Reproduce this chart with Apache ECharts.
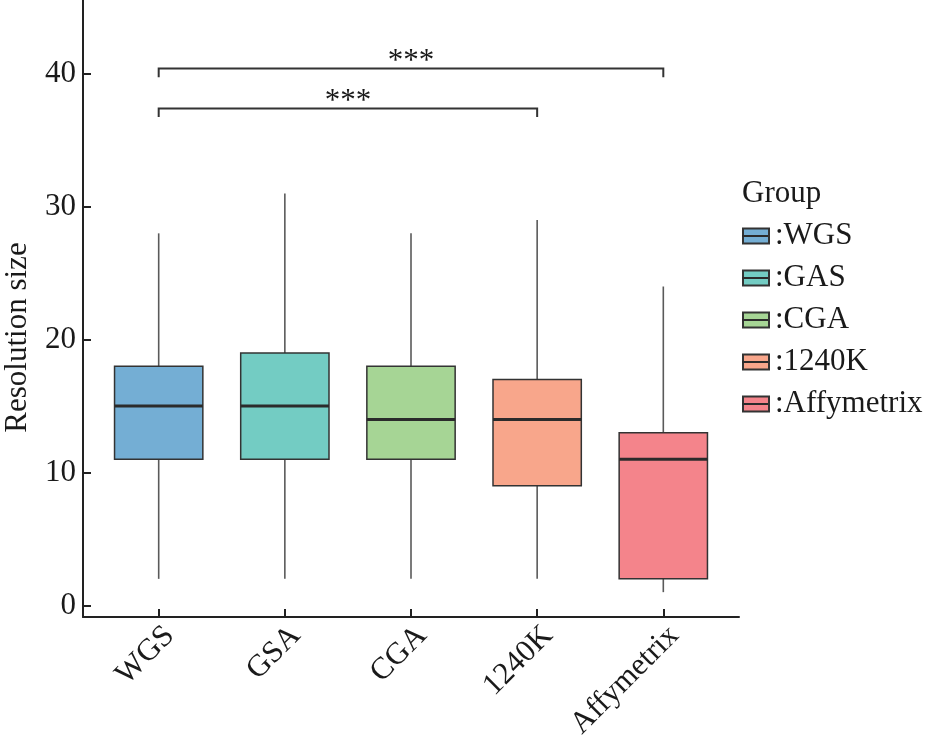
<!DOCTYPE html>
<html>
<head>
<meta charset="utf-8">
<script src="https://cdn.jsdelivr.net/npm/echarts@6/dist/echarts.min.js"></script>
<style>
  html, body { margin: 0; padding: 0; background: #fff; }
  #chart { width: 926px; height: 738px; }
</style>
</head>
<body>
<div id="chart"></div>
<script>
// categories on the x axis and names shown in the legend (legend spells GAS)
const categories = ['WGS', 'GSA', 'CGA', '1240K', 'Affymetrix'];
const legendNames = ['WGS', 'GAS', 'CGA', '1240K', 'Affymetrix'];
// box statistics
const whiskerLow = [2, 2, 2, 2, 1];
const q1 = [11, 11, 11, 9, 2];
const median = [15, 15, 14, 14, 11];
const q3 = [18, 19, 18, 17, 13];
const whiskerHigh = [28, 31, 28, 29, 24];
const yTicks = [0, 10, 20, 30, 40];
// significance brackets: from group, to group, height, label
const bracketFrom = [1, 1];
const bracketTo = [4, 5];
const bracketY = [37.4, 40.4];
const bracketLabel = ['***', '***'];

const colors = ['#74AED4', '#73CCC3', '#A6D595', '#F8A68B', '#F4848B'];
const font = 'Liberation Serif';
const fs = 31;
const ink = '#1a1a1a';

const chart = echarts.init(document.getElementById('chart'));

function renderBox(params, api) {
  const x = api.value(0);
  const lo = api.coord([x, api.value(1)]);
  const a = api.coord([x, api.value(2)]);
  const m = api.coord([x, api.value(3)]);
  const b = api.coord([x, api.value(4)]);
  const hi = api.coord([x, api.value(5)]);
  const half = api.size([0.7, 0])[0] / 2;
  const whisker = { stroke: '#5a5a5a', lineWidth: 1.6 };
  return {
    type: 'group',
    children: [
      { type: 'line', shape: { x1: lo[0], y1: lo[1], x2: a[0], y2: a[1] }, style: whisker },
      { type: 'line', shape: { x1: b[0], y1: b[1], x2: hi[0], y2: hi[1] }, style: whisker },
      {
        type: 'rect',
        shape: { x: a[0] - half, y: b[1], width: half * 2, height: a[1] - b[1] },
        style: { fill: api.visual('color'), stroke: '#333', lineWidth: 1.5 }
      },
      {
        type: 'line',
        shape: { x1: m[0] - half, y1: m[1], x2: m[0] + half, y2: m[1] },
        style: { stroke: '#2b2b2b', lineWidth: 3 }
      }
    ]
  };
}

function renderBracket(params, api) {
  const i = params.dataIndex;
  const p1 = api.coord([api.value(0), api.value(2)]);
  const p2 = api.coord([api.value(1), api.value(2)]);
  const drop = api.size([0, 0.65])[1];
  return {
    type: 'group',
    children: [
      {
        type: 'polyline',
        shape: { points: [[p1[0], p1[1] + drop], [p1[0], p1[1]], [p2[0], p2[1]], [p2[0], p2[1] + drop]] },
        style: { stroke: '#333', lineWidth: 2, fill: null }
      },
      {
        type: 'text',
        x: (p1[0] + p2[0]) / 2,
        y: p1[1] + 9,
        style: {
          text: bracketLabel[i], fontFamily: font, fontSize: fs, fill: ink,
          align: 'center', verticalAlign: 'bottom'
        }
      }
    ]
  };
}

const series = categories.map((c, i) => ({
  name: legendNames[i],
  type: 'custom',
  renderItem: renderBox,
  itemStyle: { color: colors[i], borderColor: '#333', borderWidth: 1.5 },
  encode: { x: 0, y: [1, 2, 3, 4, 5] },
  data: [[i + 1, whiskerLow[i], q1[i], median[i], q3[i], whiskerHigh[i]]],
  z: 2
}));

series.push({
  name: 'brackets',
  type: 'custom',
  renderItem: renderBracket,
  encode: { x: [0, 1], y: 2 },
  data: bracketFrom.map((f, i) => [f, bracketTo[i], bracketY[i]]),
  z: 3
});

const legendLeft = 742;
const legendTop = 219;
const legendRow = 42;
const legendGraphics = legendNames.map((n, i) => ({
  type: 'line',
  shape: {
    x1: legendLeft, y1: legendTop + 17 + i * legendRow,
    x2: legendLeft + 26, y2: legendTop + 17 + i * legendRow
  },
  style: { stroke: '#2b2b2b', lineWidth: 2 },
  z: 100
}));

chart.setOption({
  animation: false,
  grid: { left: 83, right: 187, top: 0, bottom: 121, containLabel: false, outerBoundsMode: 'none' },
  title: {
    text: 'Group', left: legendLeft, top: 178, padding: 0,
    textStyle: { fontFamily: font, fontSize: fs, fontWeight: 'normal', color: ink }
  },
  legend: {
    data: legendNames,
    orient: 'vertical',
    left: legendLeft,
    top: legendTop,
    padding: 0,
    icon: 'rect',
    itemWidth: 26,
    itemHeight: 15,
    itemGap: legendRow - 34,
    selectedMode: false,
    formatter: name => ':' + name,
    textStyle: { fontFamily: font, fontSize: fs, color: ink, lineHeight: 34, padding: [0, 0, 0, 1] }
  },
  graphic: legendGraphics,
  xAxis: {
    type: 'value',
    min: 0.4,
    max: 5.6,
    splitLine: { show: false },
    axisLine: { show: true, onZero: false, lineStyle: { color: '#222', width: 2 } },
    axisTick: { show: true, inside: true, length: 8, lineStyle: { color: '#222', width: 2 }, customValues: [1, 2, 3, 4, 5] },
    axisLabel: {
      customValues: [1, 2, 3, 4, 5],
      formatter: v => categories[Math.round(v) - 1],
      rotate: 45,
      margin: 3,
      align: 'right',
      verticalAlign: 'top',
      fontFamily: font,
      fontSize: fs,
      color: ink
    }
  },
  yAxis: {
    type: 'value',
    min: -0.87,
    max: 45.56,
    name: 'Resolution size',
    nameLocation: 'middle',
    nameRotate: 90,
    nameGap: 50,
    nameTextStyle: { fontFamily: font, fontSize: fs, color: ink, padding: [0, 58, 0, 0] },
    splitLine: { show: false },
    axisLine: { show: true, onZero: false, lineStyle: { color: '#222', width: 2 } },
    axisTick: { show: true, inside: true, length: 8, lineStyle: { color: '#222', width: 2 }, customValues: yTicks },
    axisLabel: {
      customValues: yTicks,
      margin: 7,
      fontFamily: font,
      fontSize: fs,
      color: ink
    }
  },
  series: series
});
</script>
</body>
</html>
